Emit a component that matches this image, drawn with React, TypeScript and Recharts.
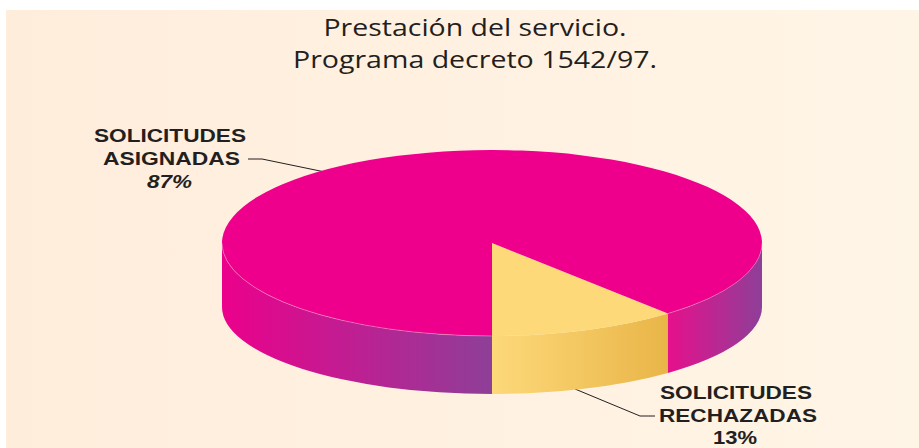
import { PieChart, Pie } from "recharts";

const categories = ["SOLICITUDES RECHAZADAS", "SOLICITUDES ASIGNADAS"];
const values = [13, 87];
const titleLines = ["Prestación del servicio.", "Programa decreto 1542/97."];
const titleWidths = [303, 364];

const tableData = categories.map((name, i) => ({ name, value: values[i] }));

const W = 919;
const H = 448;
const CX = 492;
const CY = 243;
const RX = 270;
const RY_TOP = 93;
const RY_BOTTOM = 87;
const CY_BOTTOM = 307;
const WARP = 1.24; // the source has some perspective, slices are not true ellipse angles

const LABEL_FONT = "'Liberation Sans', Arial, sans-serif";
const INK = "#231f20";

const rad = (deg: number) => (deg * Math.PI) / 180;

// data angle -> angle on the ellipse
function warp(deg: number) {
  const a = rad(deg);
  const w = Math.atan2(WARP * Math.sin(a), Math.cos(a));
  const turns = Math.round((a - w) / (2 * Math.PI));
  return w + turns * 2 * Math.PI;
}

const top = (p: number) => [CX + RX * Math.cos(p), CY - RY_TOP * Math.sin(p)];
const bottom = (p: number) => [CX + RX * Math.cos(p), CY_BOTTOM - RY_BOTTOM * Math.sin(p)];

function wallPath(p1: number, p2: number) {
  const [ax, ay] = top(p1);
  const [bx, by] = top(p2);
  const [cx, cy] = bottom(p2);
  const [dx, dy] = bottom(p1);
  return `M${ax},${ay} A${RX},${RY_TOP} 0 0 0 ${bx},${by} L${cx},${cy} A${RX},${RY_BOTTOM} 0 0 1 ${dx},${dy} Z`;
}

function topPath(p1: number, p2: number) {
  const [ax, ay] = top(p1);
  const [bx, by] = top(p2);
  const large = p2 - p1 > Math.PI ? 1 : 0;
  return `M${CX},${CY} L${ax},${ay} A${RX},${RY_TOP} 0 ${large} 0 ${bx},${by} Z`;
}

function Slice3D(props: any) {
  const p1 = warp(props.startAngle);
  const p2 = warp(props.endAngle);
  if (props.index === 0) {
    return (
      <g>
        <path d={wallPath(p1, p2)} fill="url(#wallYellow)" />
        <path d={topPath(p1, p2)} fill="#fdd97a" />
      </g>
    );
  }
  // big slice: wall shows on both sides of the yellow one
  return (
    <g>
      <path d={wallPath(p1, 0)} fill="url(#wallRight)" />
      <path d={wallPath(Math.PI, p2)} fill="url(#wallLeft)" />
      <path d={topPath(p1, p2)} fill="#ee008c" />
      <path
        d={`M${top(Math.PI).join(",")} A${RX},${RY_TOP} 0 0 0 ${top(p2).join(",")}`}
        fill="none"
        stroke="#f9c4de"
        strokeWidth={0.4}
      />
      <path
        d={`M${top(p1).join(",")} A${RX},${RY_TOP} 0 0 0 ${top(0).join(",")}`}
        fill="none"
        stroke="#f3b6d6"
        strokeWidth={0.4}
      />
    </g>
  );
}

function StretchedText({ x, y, width, children, italic }: any) {
  return (
    <text
      x={x}
      y={y}
      textLength={width}
      lengthAdjust="spacingAndGlyphs"
      fontFamily={LABEL_FONT}
      fontSize={18}
      fontWeight="bold"
      fontStyle={italic ? "italic" : "normal"}
      fill={INK}
    >
      {children}
    </text>
  );
}

export default function App() {
  return (
    <div
      style={{
        position: "absolute",
        left: 0,
        top: 0,
        width: W,
        height: H,
        background: "#fff",
      }}
    >
      <div
        style={{
          position: "absolute",
          left: 6,
          top: 10,
          right: 0,
          bottom: 0,
          background: "linear-gradient(90deg, #ffeddc 0%, #fff5e6 100%)",
        }}
      />
      <PieChart width={W} height={H} style={{ position: "absolute", left: 0, top: 0 }}>
        <defs>
          <linearGradient id="wallLeft" gradientUnits="userSpaceOnUse" x1={222} y1={0} x2={491} y2={0}>
            <stop offset="0%" stopColor="#ec008c" />
            <stop offset="100%" stopColor="#8e3f98" />
          </linearGradient>
          <linearGradient id="wallRight" gradientUnits="userSpaceOnUse" x1={668} y1={0} x2={762} y2={0}>
            <stop offset="0%" stopColor="#e6108c" />
            <stop offset="100%" stopColor="#8e3f98" />
          </linearGradient>
          <linearGradient id="wallYellow" gradientUnits="userSpaceOnUse" x1={491} y1={0} x2={668} y2={0}>
            <stop offset="0%" stopColor="#fdd97a" />
            <stop offset="100%" stopColor="#e9b548" />
          </linearGradient>
        </defs>

        {titleLines.map((line, i) => (
          <text
            key={line}
            x={475}
            y={36 + i * 32}
            textAnchor="middle"
            textLength={titleWidths[i]}
            lengthAdjust="spacingAndGlyphs"
            fontFamily="'Open Sans', sans-serif"
            fontSize={23}
            fill={INK}
          >
            {line}
          </text>
        ))}

        <Pie
          data={tableData}
          dataKey="value"
          nameKey="name"
          cx={CX}
          cy={CY}
          outerRadius={RX}
          startAngle={-90}
          endAngle={270}
          stroke="none"
          shape={Slice3D}
          isAnimationActive={false}
        />

        <polyline points="248,159 262,159 325,172" fill="none" stroke={INK} strokeWidth={1} />
        <polyline points="575,389 640,416 655,416" fill="none" stroke={INK} strokeWidth={1} />

        <StretchedText x={94} y={142} width={152}>SOLICITUDES</StretchedText>
        <StretchedText x={103} y={165} width={137}>ASIGNADAS</StretchedText>
        <StretchedText x={147} y={188} width={45} italic>{values[1]}%</StretchedText>

        <StretchedText x={660} y={399} width={152}>SOLICITUDES</StretchedText>
        <StretchedText x={659} y={422} width={158}>RECHAZADAS</StretchedText>
        <StretchedText x={713} y={444} width={44}>{values[0]}%</StretchedText>
      </PieChart>
    </div>
  );
}
